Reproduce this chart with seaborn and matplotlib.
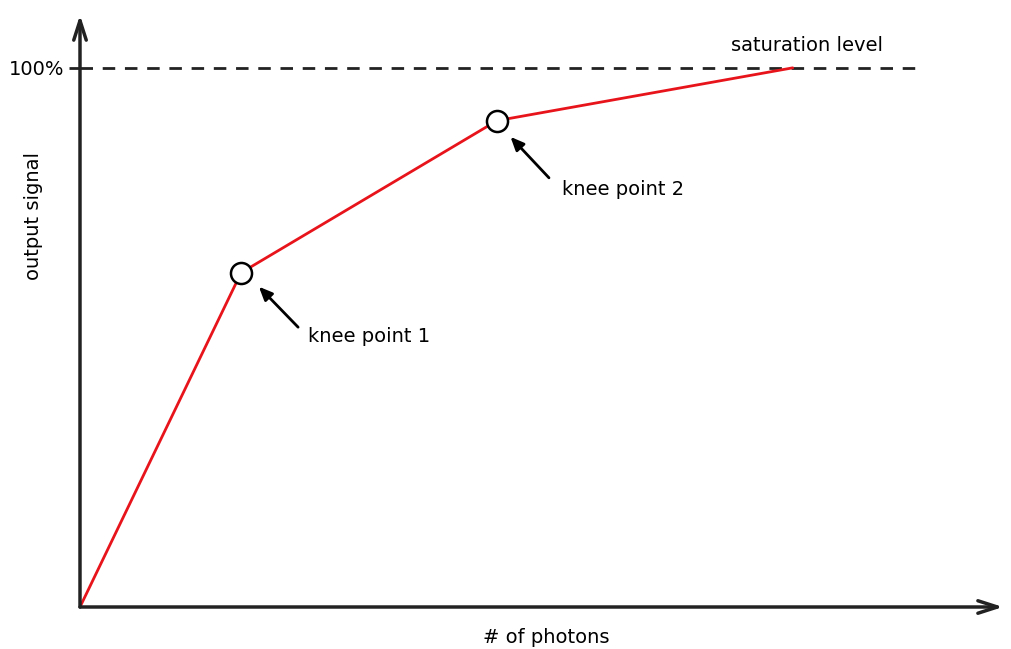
import pandas as pd
import seaborn as sns
import matplotlib.pyplot as plt

# --- Data (x scaled so saturation point = 100) ---
photons = [0, 22.6, 58.5, 100]
signal = [0, 62.0, 90.2, 100]
knee_x = [22.6, 58.5]
knee_y = [62.0, 90.2]
knee_labels = ['knee point 1', 'knee point 2']
saturation = 100
tick_label = '100%'

df = pd.DataFrame({'photons': photons, 'signal': signal})
knees = pd.DataFrame({'photons': knee_x, 'signal': knee_y})

sns.set_style('white')
plt.rcParams['font.family'] = ['Liberation Sans Narrow', 'DejaVu Sans Condensed', 'DejaVu Sans']
plt.rcParams['text.color'] = 'black'
plt.rcParams['axes.labelcolor'] = 'black'
plt.rcParams['ytick.color'] = 'black'

fig = plt.figure(figsize=(10.12, 6.49), dpi=100)
ax = fig.add_axes([80 / 1012, 42 / 649, 923 / 1012, 592 / 649])
ax.set_xlim(0, 129.5)
ax.set_ylim(0, 109.8)

# saturation level line
ax.plot([0, 117.5], [saturation, saturation], color='#222222', lw=2,
        dashes=(4.5, 3.5), zorder=1)

# response curve
sns.lineplot(data=df, x='photons', y='signal', color='#e8141c', lw=2,
             ax=ax, zorder=2)
sns.scatterplot(data=knees, x='photons', y='signal', s=230, color='white',
                edgecolor='black', linewidth=1.8, ax=ax, zorder=3)

# axes drawn as arrows
for spine in ax.spines.values():
    spine.set_visible(False)
arrow = dict(arrowstyle='->,head_length=1.4,head_width=0.45', color='#222222',
             lw=2.5, shrinkA=0, shrinkB=0)
ax.annotate('', xy=(1, 0), xytext=(0, 0), xycoords='axes fraction',
            arrowprops=arrow)
ax.annotate('', xy=(0, 1), xytext=(0, 0), xycoords='axes fraction',
            arrowprops=arrow)

fs = 14
ax.set_xticks([])
ax.set_yticks([saturation])
ax.set_yticklabels([tick_label], fontsize=fs)
ax.tick_params(axis='y', length=8, width=2, color='#222222', pad=3, left=True)

ax.set_xlabel('# of photons', fontsize=fs)
ax.xaxis.set_label_coords(0.505, -0.035)
ax.set_ylabel('output signal', fontsize=fs)
ax.yaxis.set_label_coords(-0.04, 0.66)

# annotations
pointer = dict(arrowstyle='-|>,head_length=0.8,head_width=0.35', color='black',
               lw=2, shrinkA=0, shrinkB=0)
ax.annotate('', xy=(25.1, 59.4), xytext=(30.6, 51.9), arrowprops=pointer)
ax.annotate('', xy=(60.4, 87.2), xytext=(65.8, 79.6), arrowprops=pointer)
ax.text(32.0, 50.1, knee_labels[0], fontsize=fs, va='center')
ax.text(67.6, 77.4, knee_labels[1], fontsize=fs, va='center')
ax.text(91.3, 104.2, 'saturation level', fontsize=fs, va='center')

fig.savefig('out.png', dpi=100)
